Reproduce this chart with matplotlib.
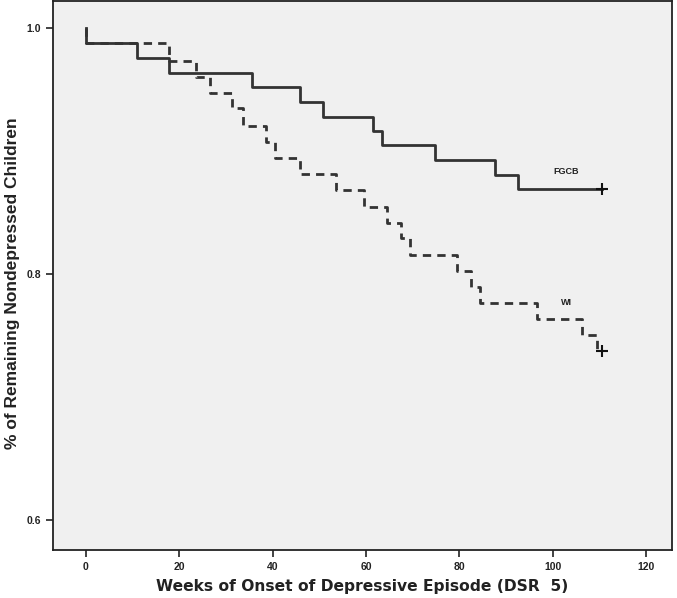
import numpy as np
import matplotlib
matplotlib.use("Agg")
import matplotlib.pyplot as plt

# FGCB group (solid): event times (weeks) and survival after each event
fgcb_times = [0, 10.9, 17.8, 35.5, 45.8, 50.7, 61.4, 63.5, 74.7, 87.7, 92.6]
fgcb_surv = [0.9876, 0.9754, 0.9632, 0.9519, 0.9397, 0.9275, 0.9161, 0.9048, 0.8926, 0.8804, 0.8690]
fgcb_end = 110.6

# WI group (dashed)
wi_times = [0, 17.8, 23.7, 26.7, 31.4, 33.6, 38.6, 40.6, 45.8, 53.6, 59.6,
            64.5, 67.5, 69.5, 79.5, 82.4, 84.5, 96.7, 106.3, 109.5]
wi_surv = [0.9876, 0.9732, 0.9602, 0.9472, 0.9348, 0.9205, 0.9075, 0.8945, 0.8812, 0.8683, 0.8547,
           0.8417, 0.8291, 0.8155, 0.8025, 0.7898, 0.7763, 0.7633, 0.7506, 0.7378]
wi_end = 110.6

xticks = [0, 20, 40, 60, 80, 100, 120]
yticks = [0.6, 0.8, 1.0]

fig = plt.figure(figsize=(6.77, 5.98), dpi=100)
ax = fig.add_axes([0.0783, 0.0803, 0.9143, 0.918])
ax.set_facecolor("#f0f0f0")

line_col = "#333333"

def km_xy(times, surv, end):
    x = [0] + list(times) + [end]
    y = [1.0] + list(surv) + [surv[-1]]
    return x, y

x, y = km_xy(fgcb_times, fgcb_surv, fgcb_end)
ax.step(x, y, where="post", color=line_col, lw=2.0)
ax.plot([fgcb_end], [fgcb_surv[-1]], marker="+", ms=9, mew=1.5, color="#111111")

x, y = km_xy(wi_times, wi_surv, wi_end)
ax.step(x, y, where="post", color=line_col, lw=2.0, dashes=(3, 2.2))
ax.plot([wi_end], [wi_surv[-1]], marker="+", ms=9, mew=1.5, color="#111111")

ax.text(102.9, 0.8829, "FGCB", fontsize=6.5, fontweight="bold", color="#222222",
        ha="center", va="center", family="Liberation Sans")
ax.text(102.9, 0.7773, "WI", fontsize=6.5, fontweight="bold", color="#222222",
        ha="center", va="center", family="Liberation Sans")

ax.set_xlim(-7, 125.5)
ax.set_ylim(0.576, 1.0217)
ax.set_xticks(xticks)
ax.set_yticks(yticks)
ax.set_xticklabels([str(v) for v in xticks], fontsize=7.5, fontweight="bold", family="Liberation Sans")
ax.set_yticklabels(["%.1f" % v for v in yticks], fontsize=7.5, fontweight="bold", family="Liberation Sans")
ax.tick_params(direction="out", length=5, width=1.2, color="#222222", labelcolor="#222222")

for s in ax.spines.values():
    s.set_linewidth(1.3)
    s.set_color("#222222")

ax.set_xlabel("Weeks of Onset of Depressive Episode (DSR  5)", fontsize=11.2, fontweight="bold",
              color="#222222", labelpad=5)
ax.set_ylabel("% of Remaining Nondepressed Children", fontsize=12.5, fontweight="bold",
              color="#222222", family="Liberation Sans")
ax.yaxis.set_label_coords(-0.053, 0.486)

fig.savefig("out.png", dpi=100)
